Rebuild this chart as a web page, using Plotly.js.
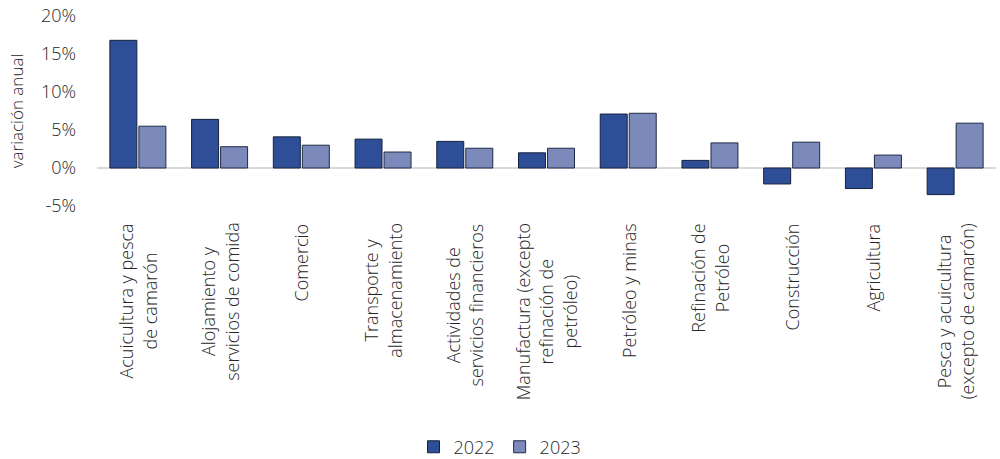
<!DOCTYPE html>
<html>
<head>
<meta charset="utf-8">
<script src="https://cdn.plot.ly/plotly-3.0.1.min.js"></script>
<style>html,body{margin:0;padding:0;background:#fff;}#chart{width:1000px;height:459px;}</style>
</head>
<body>
<div id="chart"></div>
<script>
const categories = [
  "Acuicultura y pesca<br>de camarón",
  "Alojamiento y<br>servicios de comida",
  "Comercio",
  "Transporte y<br>almacenamiento",
  "Actividades de<br>servicios financieros",
  "Manufactura (excepto<br>refinación de<br>petróleo)",
  "Petróleo y minas",
  "Refinación de<br>Petróleo",
  "Construcción",
  "Agricultura",
  "Pesca y acuicultura<br>(excepto de camarón)"
];
const values2022 = [16.8, 6.4, 4.1, 3.8, 3.5, 2.0, 7.1, 1.0, -2.1, -2.7, -3.5];
const values2023 = [5.5, 2.8, 3.0, 2.1, 2.6, 2.6, 7.2, 3.3, 3.4, 1.7, 5.9];
const seriesNames = ["2022", "2023"];
const yTickVals = [-5, 0, 5, 10, 15, 20];
const yTickText = ["-5%", "0%", "5%", "10%", "15%", "20%"];

const fam = "Open Sans, Noto Sans, sans-serif";
const txtColor = "#262626";

const traces = [
  {type: "bar", name: seriesNames[0], x: categories, y: values2022,
   marker: {color: "#2f4e98", line: {color: "#16213d", width: 1}}},
  {type: "bar", name: seriesNames[1], x: categories, y: values2023,
   marker: {color: "#7b89bb", line: {color: "#1f2a45", width: 1}}}
];

const annotations = categories.map(c => ({
  x: c, xref: "x", y: -0.08, yref: "paper",
  xanchor: "center", yanchor: "top",
  text: c, textangle: -90, align: "center", showarrow: false,
  font: {family: fam, size: 18, color: txtColor, weight: 300}
}));

const layout = {
  width: 1000, height: 459,
  margin: {l: 97, r: 4, t: 16, b: 253, autoexpand: false},
  paper_bgcolor: "#fff", plot_bgcolor: "#fff",
  font: {family: fam, color: txtColor, size: 17},
  barmode: "group", bargap: 0.29, bargroupgap: 0.07,
  showlegend: true,
  legend: {orientation: "h", x: 0.5, xanchor: "center", xref: "container",
           y: 0.026, yanchor: "middle", yref: "container",
           font: {family: fam, size: 18, color: txtColor, weight: 300},
           itemwidth: 30, traceorder: "normal", tracegroupgap: 0},
  annotations: annotations,
  xaxis: {type: "category", showgrid: false, showline: false, zeroline: false,
          ticks: "", showticklabels: false, automargin: false},
  yaxis: {range: [-5, 20], tickvals: yTickVals, ticktext: yTickText, showgrid: false, showline: false,
          zeroline: true, zerolinecolor: "#d9d9d9", zerolinewidth: 2.5, ticks: "", ticklen: 0,
          ticklabelstandoff: 20,
          tickfont: {family: fam, size: 18, color: txtColor, weight: 300}, automargin: false,
          title: {text: "variación anual", font: {family: fam, size: 17, color: txtColor, weight: 300}, standoff: 12}}
};

Plotly.newPlot("chart", traces, layout, {displayModeBar: false, staticPlot: true});
</script>
</body>
</html>
